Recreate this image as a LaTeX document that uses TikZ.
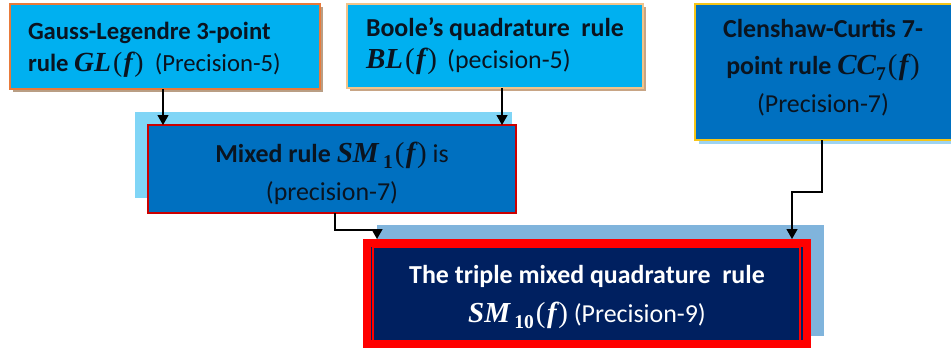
\documentclass[tikz,border=0pt]{standalone}
\usepackage{fontspec}
\setmainfont{Carlito}
\newfontfamily\mathf{Liberation Serif}[Scale=1.12]
\usetikzlibrary{arrows.meta}

% bold italic symbols in formulas, upright brackets and subscripts
\newcommand{\mvar}[1]{{\mathf\bfseries\itshape #1}}
\newcommand{\mpar}[1]{\kern2bp{\mathf\mdseries\upshape (}\kern1.5bp#1\kern1.5bp{\mathf\mdseries\upshape )}}
\newcommand{\msub}[1]{\raisebox{-0.55ex}{\fontsize{17.5}{17.5}\selectfont\mathf\bfseries\upshape #1}}

\definecolor{cyanbox}{HTML}{00B0F0}
\definecolor{bluebox}{HTML}{0070C0}
\definecolor{navybox}{HTML}{002060}
\definecolor{orangeedge}{HTML}{E97A3A}
\definecolor{tanedge}{HTML}{F2C48A}
\definecolor{goldedge}{HTML}{F5C518}
\definecolor{paleblue}{HTML}{80D5F6}
\definecolor{steelblue}{HTML}{80B4DC}
\definecolor{shadowtan}{HTML}{C8A585}
\definecolor{shadowblue}{HTML}{9DD3F2}
\definecolor{inkblack}{HTML}{0A1420}

\tikzset{
  box/.style={rectangle, inner sep=0pt, outer sep=0pt, line width=1.2bp},
  txt/.style={inner sep=0pt, outer sep=0pt, anchor=base, text=inkblack,
              font=\fontsize{26}{30}\selectfont},
  txtsm/.style={inner sep=0pt, outer sep=0pt, anchor=base west, text=inkblack,
              font=\fontsize{24.8}{29}\selectfont},
  txtl/.style={txt, anchor=base west},
  link/.style={draw=black, line width=1.3bp,
               -{Triangle[length=10bp,width=11bp]}},
}

\begin{document}
\begin{tikzpicture}[x=1bp,y=-1bp]
\useasboundingbox (0,0) rectangle (951,350);

% ---- backing shapes ----
\fill[shadowtan!80!gray] (13,7) rectangle (323,92);
\fill[shadowtan] (350,7) rectangle (646,91);
\fill[shadowblue] (699,8) rectangle (951,144);
\fill[paleblue] (135,112) rectangle (512,198);
\fill[steelblue] (377,225) rectangle (824,336);

% ---- boxes ----
\node[box, draw=orangeedge, fill=cyanbox, minimum width=310bp, minimum height=85bp]
  (gl) at (165,46.5) {};
\node[box, draw=tanedge, fill=cyanbox, minimum width=296bp, minimum height=84bp]
  (bl) at (495,46) {};
\node[box, draw=goldedge, fill=bluebox, minimum width=258bp, minimum height=136bp]
  (cc) at (824,72) {};
\node[box, draw=red!80!black, fill=bluebox, minimum width=368bp, minimum height=88bp]
  (sm) at (332,169) {};
\node[box, draw=red, line width=8bp, fill=navybox, minimum width=440bp, minimum height=101bp]
  (tm) at (587,293.5) {};
\draw[red, line width=1.6bp] (373,247.5) rectangle (800,340.5);

% ---- texts ----
\node[txtsm] (gl1) at (28,39) {\bfseries Gauss-Legendre 3-point};
\node[txtsm] (gl2) at (28,71) {\bfseries rule \mvar{GL}\mpar{\mvar{f}}\ \ \mdseries(Precision-5)};

\node[txtl] (bl1) at (366,36) {\bfseries Boole’s quadrature\ \ rule};
\node[txtl] (bl2) at (366,68) {\mvar{BL}\mpar{\mvar{f}}\ \,(pecision-5)};

\node[txt] (cc1) at (823,37) {\bfseries Clenshaw-Curtis 7-};
\node[txt] (cc2) at (823,74) {\bfseries point rule \mvar{CC}\msub{7}\mpar{\mvar{f}}};
\node[txt] (cc3) at (823,112) {(Precision-7)};

\node[txt] (sm1) at (332,162) {\bfseries Mixed rule \mvar{SM}\,\msub{1}\mpar{\mvar{f}} \mdseries is};
\node[txt] (sm2) at (332,200) {(precision-7)};

\node[txt, text=white] (tm1) at (587,283) {\bfseries The triple mixed quadrature\ \ rule};
\node[txt, text=white] (tm2) at (587,322) {\mvar{SM}\,\msub{10}\mpar{\mvar{f}} (Precision-9)};

% ---- connectors ----
\coordinate (glx) at (163,0);
\coordinate (blx) at (502,0);
\draw[link] (gl.south -| glx) -- (sm.north -| glx);
\draw[link] (bl.south -| blx) -- (sm.north -| blx);

\coordinate (smk) at (335,230);
\coordinate (tmk) at (377,230);
\draw[link] (sm.south -| smk) -- (smk) -- (tmk) -- ([yshift=4bp]tm.north -| tmk);

\coordinate (cck) at (822,192);
\coordinate (tmr) at (792,192);
\draw[link] (cc.south -| cck) -- (cck) -- (tmr) -- ([yshift=4bp]tm.north -| tmr);
\end{tikzpicture}
\end{document}
